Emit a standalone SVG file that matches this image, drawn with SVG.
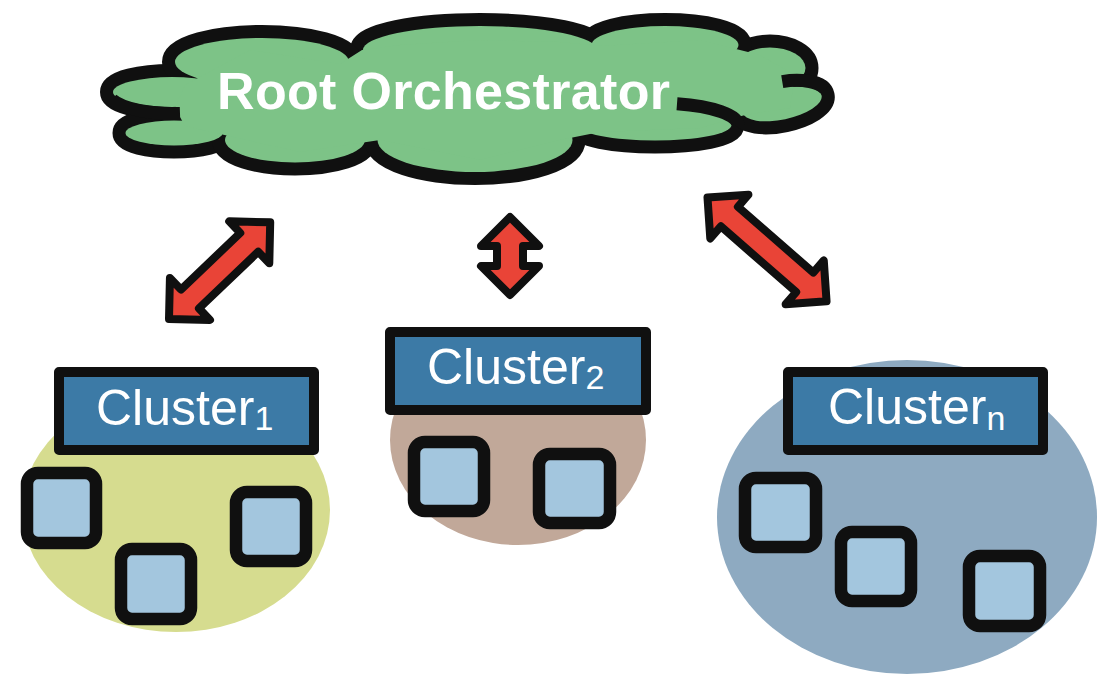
<svg xmlns="http://www.w3.org/2000/svg" xmlns:xlink="http://www.w3.org/1999/xlink" width="1106" height="675" viewBox="0 0 1106 675">
  <style>
    .lobe-edge { fill: #101010; stroke: #101010; stroke-width: 26; stroke-linejoin: round; }
    .lobe-fill { fill: #7dc387; stroke: none; }
    .lobe-arc { fill: none; stroke: #101010; stroke-width: 13; stroke-linecap: butt; }
    .title { font-family: "Liberation Sans", Arial, sans-serif; font-weight: bold; font-size: 52px; fill: #ffffff; }
    .arrow { fill: #e94437; stroke: #101010; stroke-width: 8; stroke-linejoin: round; }
    .label-box { fill: #3c7aa6; stroke: #101010; stroke-width: 10; stroke-linejoin: round; }
    .label { font-family: "Liberation Sans", Arial, sans-serif; font-size: 50px; fill: #ffffff; }
    .sub { font-size: 34px; }
    .worker { fill: #a3c6de; stroke: #101010; stroke-width: 12.5; }
  </style>
  <defs>
    <!-- inner outlines of the overlapping lobes; the edge pass strokes them wide,
         the fill pass paints their insides plus a central patch -->
    <g id="cloudLobes">
      <ellipse cx="172" cy="92" rx="59" ry="15"/>
      <ellipse cx="174" cy="133" rx="48.5" ry="12.5"/>
      <ellipse cx="295" cy="140" rx="70" ry="22.5"/>
      <ellipse cx="475" cy="140" rx="97.5" ry="32"/>
      <ellipse cx="655" cy="125" rx="76.5" ry="15.5"/>
      <ellipse cx="782" cy="104" rx="40.5" ry="15.5" transform="rotate(-12 782 104)"/>
      <ellipse cx="770" cy="68" rx="35.5" ry="20.5"/>
      <ellipse cx="665" cy="45" rx="73.5" ry="19"/>
      <ellipse cx="480" cy="50" rx="117" ry="24"/>
      <ellipse cx="262" cy="62" rx="87" ry="24"/>
    </g>
    <polygon id="cloudCore" points="185,85 250,50 340,64 362,50 400,45 480,40 560,42 600,46 700,40 760,55 795,75 790,108 745,115 700,128 600,132 560,140 480,160 380,140 300,152 220,134 185,126 175,108"/>
  </defs>

  <!-- root orchestrator cloud -->
  <g id="root-orchestrator">
    <use xlink:href="#cloudLobes" class="lobe-edge"/>
    <use xlink:href="#cloudLobes" class="lobe-fill"/>
    <use xlink:href="#cloudCore" class="lobe-fill"/>
    <!-- lobe outlines that run on into the cloud -->
    <path class="lobe-arc" d="M112,99.5 A65.5,21.5 0 0,0 180,113.4"/>
    <path class="lobe-arc" d="M677,103.8 A83,22 0 0,1 738,125"/>
    <path class="lobe-arc" transform="translate(782,104) rotate(-12)" d="M4.91,-21.88 A47,22 0 0,1 45.4,-5.69"/>
    <text class="title" x="217" y="109" textLength="453" lengthAdjust="spacing">Root Orchestrator</text>
  </g>

  <!-- double-headed links between the root and each cluster -->
  <g id="connectors">
    <polygon class="arrow" transform="translate(169,319) rotate(-43.7)" points="0,0 29,-29 29,-13 111,-13 111,-29 140,0 111,29 111,13 29,13 29,29"/>
    <polygon class="arrow" transform="translate(510,217) rotate(90)" points="0,0 29,-29 29,-13 49,-13 49,-29 78,0 49,29 49,13 29,13 29,29"/>
    <polygon class="arrow" transform="translate(707.5,197.5) rotate(41.1)" points="0,0 29,-29 29,-13 129,-13 129,-29 158,0 129,29 129,13 29,13 29,29"/>
  </g>

  <!-- cluster 1 -->
  <g id="cluster-1">
    <ellipse cx="176" cy="510" rx="154" ry="122" fill="#d6dc8f"/>
    <rect class="worker" x="27" y="473" width="69" height="70" rx="11"/>
    <rect class="worker" x="121" y="549" width="70" height="70" rx="11"/>
    <rect class="worker" x="236" y="492" width="70" height="69" rx="11"/>
    <rect class="label-box" x="59" y="372" width="255" height="78"/>
    <text class="label" x="96" y="425">Cluster<tspan class="sub" dy="5">1</tspan></text>
  </g>

  <!-- cluster 2 -->
  <g id="cluster-2">
    <ellipse cx="518" cy="440" rx="128" ry="105" fill="#c1a899"/>
    <rect class="worker" x="414" y="442" width="70" height="69" rx="11"/>
    <rect class="worker" x="539" y="454" width="71" height="69" rx="11"/>
    <rect class="label-box" x="390" y="332" width="256" height="78"/>
    <text class="label" x="427" y="384">Cluster<tspan class="sub" dy="5">2</tspan></text>
  </g>

  <!-- cluster n -->
  <g id="cluster-n">
    <ellipse cx="907" cy="517" rx="190" ry="157" fill="#8eaac1"/>
    <rect class="worker" x="745" y="478" width="71" height="69" rx="11"/>
    <rect class="worker" x="841" y="532" width="70" height="69" rx="11"/>
    <rect class="worker" x="969" y="556" width="71" height="70" rx="11"/>
    <rect class="label-box" x="788" y="372" width="255" height="78"/>
    <text class="label" x="828" y="424">Cluster<tspan class="sub" dy="6">n</tspan></text>
  </g>
</svg>
